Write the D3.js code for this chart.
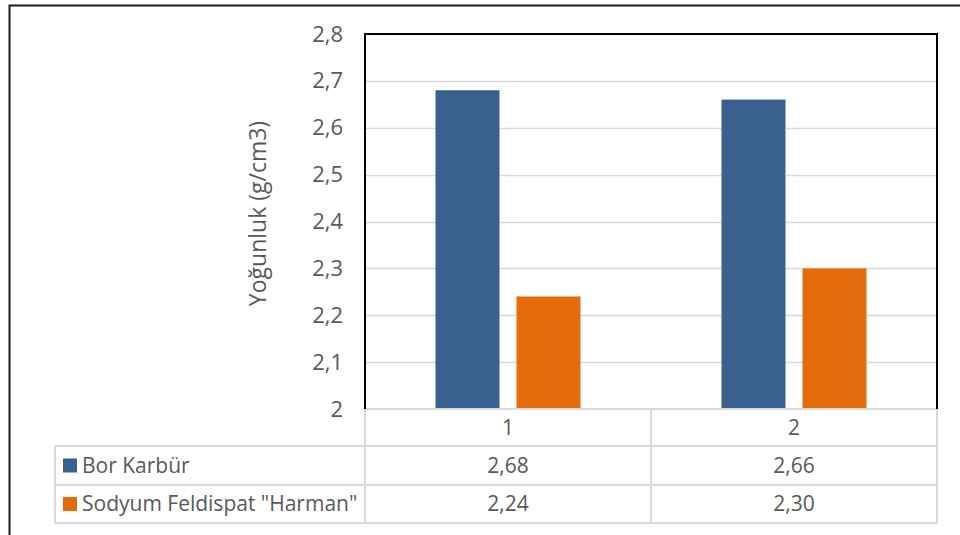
<!DOCTYPE html>
<html>
<head>
<meta charset="utf-8">
<script src="https://cdn.jsdelivr.net/npm/d3@7"></script>
<style>
  html, body { margin: 0; padding: 0; background: #fff; }
  svg { display: block; }
  text { font-family: "Open Sans", "Noto Sans", sans-serif; fill: #595959; }
</style>
</head>
<body>
<svg id="chart" width="960" height="535"></svg>
<script>
// Density measurements per sample
const categories = ["1", "2"];
const seriesNames = ["Bor Karbür", "Sodyum Feldispat \"Harman\""];
const borKarbur = [2.68, 2.66];
const sodyumFeldispat = [2.24, 2.30];
const yTicks = [2, 2.1, 2.2, 2.3, 2.4, 2.5, 2.6, 2.7, 2.8];
const seriesColors = ["#386190", "#E46C0A"];
const yTitle = "Yoğunluk (g/cm3)";

const series = [borKarbur, sodyumFeldispat];
const fmt = d => d3.format(".2~f")(d).replace(".", ",");
const fmt2 = d => d3.format(".2f")(d).replace(".", ",");

const svg = d3.select("#chart");

// outer chart frame (runs past the right and bottom edges)
svg.append("rect")
  .attr("x", 9.5).attr("y", 5.5)
  .attr("width", 1000).attr("height", 600)
  .attr("fill", "none").attr("stroke", "#1a1a1a").attr("stroke-width", 2);

const plot = { left: 365, right: 937, top: 34, bottom: 409 };
const fontSize = 21;
const tickFontSize = 22;

const x = d3.scaleBand().domain(categories).range([plot.left, plot.right]).paddingInner(0).paddingOuter(0);
const xInner = d3.scaleBand().domain(d3.range(series.length))
  .range([70.5, x.bandwidth() - 70.5]).paddingInner(0.21);
const y = d3.scaleLinear().domain([2, 2.8]).range([plot.bottom, plot.top]);

// gridlines
svg.append("g").selectAll("line")
  .data(yTicks.filter(t => t > 2 && t < 2.8))
  .join("line")
  .attr("x1", plot.left).attr("x2", plot.right)
  .attr("y1", d => Math.round(y(d)) + 0.5).attr("y2", d => Math.round(y(d)) + 0.5)
  .attr("stroke", "#d9d9d9").attr("stroke-width", 1.5);

// bars
const groups = svg.append("g").selectAll("g")
  .data(categories)
  .join("g")
  .attr("transform", d => `translate(${x(d)},0)`);

groups.selectAll("rect")
  .data((c, ci) => series.map((s, si) => ({ si, v: s[ci] })))
  .join("rect")
  .attr("x", d => xInner(d.si))
  .attr("width", xInner.bandwidth())
  .attr("y", d => y(d.v))
  .attr("height", d => y(2) - y(d.v))
  .attr("fill", d => seriesColors[d.si]);

// y axis labels
const yAxis = d3.axisLeft(y).tickValues(yTicks).tickFormat(fmt).tickSize(0).tickPadding(22);
const yg = svg.append("g").attr("transform", `translate(${plot.left},0)`).call(yAxis);
yg.select(".domain").remove();
yg.selectAll("text")
  .style("font-size", tickFontSize + "px")
  .style("font-family", "\"Open Sans\", \"Noto Sans\", sans-serif")
  .attr("fill", "#595959");

// y axis title
svg.append("text")
  .attr("transform", `translate(266,${(plot.top + plot.bottom) / 2 - 8}) rotate(-90)`)
  .attr("text-anchor", "middle")
  .style("font-size", "23px")
  .text(yTitle);

// data table
const tbl = { left: 55, rows: [409, 446, 485, 523] };
const grid = svg.append("g").attr("stroke", "#d9d9d9").attr("stroke-width", 2).attr("fill", "none");
// horizontal lines
grid.append("line").attr("x1", plot.left).attr("x2", plot.right).attr("y1", tbl.rows[0]).attr("y2", tbl.rows[0]);
tbl.rows.slice(1).forEach(r => {
  grid.append("line").attr("x1", tbl.left).attr("x2", plot.right).attr("y1", r).attr("y2", r);
});
// vertical lines
grid.append("line").attr("x1", tbl.left).attr("x2", tbl.left).attr("y1", tbl.rows[1]).attr("y2", tbl.rows[3]);
[plot.left, ...categories.slice(1).map(c => x(c)), plot.right].forEach(vx => {
  grid.append("line").attr("x1", vx).attr("x2", vx).attr("y1", tbl.rows[0]).attr("y2", tbl.rows[3]);
});

// category header labels
svg.append("g").selectAll("text")
  .data(categories)
  .join("text")
  .attr("x", d => x(d) + x.bandwidth() / 2)
  .attr("y", (tbl.rows[0] + tbl.rows[1]) / 2)
  .attr("dy", "0.35em")
  .attr("text-anchor", "middle")
  .style("font-size", fontSize + "px")
  .text(d => d);

// series rows: legend key, name, values
series.forEach((s, si) => {
  const cy = (tbl.rows[si + 1] + tbl.rows[si + 2]) / 2;
  svg.append("rect")
    .attr("x", 63).attr("y", cy - 7).attr("width", 14).attr("height", 14)
    .attr("fill", seriesColors[si]);
  svg.append("text")
    .attr("x", 82).attr("y", cy).attr("dy", "0.35em")
    .style("font-size", fontSize + "px")
    .text(seriesNames[si]);
  svg.append("g").selectAll("text")
    .data(categories)
    .join("text")
    .attr("x", (d) => x(d) + x.bandwidth() / 2)
    .attr("y", cy).attr("dy", "0.35em")
    .attr("text-anchor", "middle")
    .style("font-size", fontSize + "px")
    .text((d, ci) => fmt2(s[ci]));
});

// plot area border: black on top, left and right
svg.append("path")
  .attr("d", `M${plot.left},${plot.bottom}V${plot.top}H${plot.right}V${plot.bottom}`)
  .attr("fill", "none").attr("stroke", "#000").attr("stroke-width", 2);
</script>
</body>
</html>
